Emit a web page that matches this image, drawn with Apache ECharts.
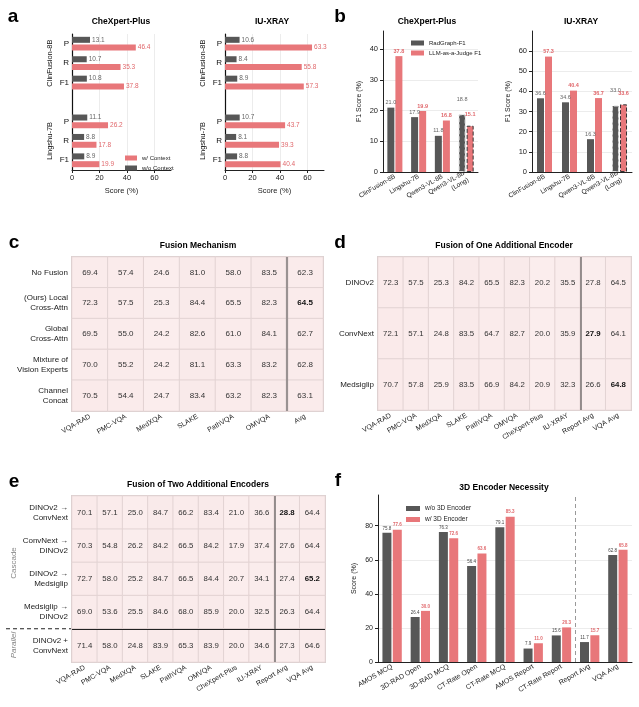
<!DOCTYPE html>
<html>
<head>
<meta charset="utf-8">
<script src="https://cdn.jsdelivr.net/npm/echarts@6/dist/echarts.min.js"></script>
<style>
html, body { margin: 0; padding: 0; background: #fff; }
#chart { width: 639px; height: 707px; }
</style>
</head>
<body>
<div id="chart"></div>
<script>
const FONT = '"Liberation Sans", Arial, sans-serif'
const DARK = '#575757'
const RED = '#e8777a'
const RED_TXT = '#e0676b'

// a: context ablation (P / R / F1 per model)
const aMetrics = ['P', 'R', 'F1']
const aModels = ['ClinFusion-8B', 'Lingshu-7B']
const aChexWo = [13.1, 10.7, 10.8, 11.1, 8.8, 8.9]
const aChexW = [46.4, 35.3, 37.8, 26.2, 17.8, 19.9]
const aIuWo = [10.6, 8.4, 8.9, 10.7, 8.1, 8.8]
const aIuW = [63.3, 55.8, 57.3, 43.7, 39.3, 40.4]
const aTicks = [0, 20, 40, 60]

// b: RadGraph vs LLM judge
const bModels = ['ClinFusion-8B', 'Lingshu-7B', 'Qwen3-VL-8B', 'Qwen3-VL-8B\n(Long)']
const bChexRad = [21.0, 17.9, 11.8, 18.8]
const bChexJudge = [37.8, 19.9, 16.8, 15.1]
const bIuRad = [36.6, 34.6, 16.3, 33.0]
const bIuJudge = [57.3, 40.4, 36.7, 33.6]

// c: fusion mechanism
const cCols = ['VQA-RAD', 'PMC-VQA', 'MedXQA', 'SLAKE', 'PathVQA', 'OMVQA', 'Avg']
const cRows = ['No Fusion', '(Ours) Local\nCross-Attn', 'Global\nCross-Attn', 'Mixture of\nVision Experts', 'Channel\nConcat']
const cVals = [
  [69.4, 57.4, 24.6, 81.0, 58.0, 83.5, 62.3],
  [72.3, 57.5, 25.3, 84.4, 65.5, 82.3, 64.5],
  [69.5, 55.0, 24.2, 82.6, 61.0, 84.1, 62.7],
  [70.0, 55.2, 24.2, 81.1, 63.3, 83.2, 62.8],
  [70.5, 54.4, 24.7, 83.4, 63.2, 82.3, 63.1]
]

// d: one additional encoder
const dCols = ['VQA-RAD', 'PMC-VQA', 'MedXQA', 'SLAKE', 'PathVQA', 'OMVQA', 'CheXpert-Plus', 'IU-XRAY', 'Report Avg', 'VQA Avg']
const dRows = ['DINOv2', 'ConvNext', 'Medsiglip']
const dVals = [
  [72.3, 57.5, 25.3, 84.2, 65.5, 82.3, 20.2, 35.5, 27.8, 64.5],
  [72.1, 57.1, 24.8, 83.5, 64.7, 82.7, 20.0, 35.9, 27.9, 64.1],
  [70.7, 57.8, 25.9, 83.5, 66.9, 84.2, 20.9, 32.3, 26.6, 64.8]
]

// e: two additional encoders
const eRows = ['DINOv2 \u2192\nConvNext', 'ConvNext \u2192\nDINOv2', 'DINOv2 \u2192\nMedsiglip', 'Medsiglip \u2192\nDINOv2', 'DINOv2 +\nConvNext']
const eVals = [
  [70.1, 57.1, 25.0, 84.7, 66.2, 83.4, 21.0, 36.6, 28.8, 64.4],
  [70.3, 54.8, 26.2, 84.2, 66.5, 84.2, 17.9, 37.4, 27.6, 64.4],
  [72.7, 58.0, 25.2, 84.7, 66.5, 84.4, 20.7, 34.1, 27.4, 65.2],
  [69.0, 53.6, 25.5, 84.6, 68.0, 85.9, 20.0, 32.5, 26.3, 64.4],
  [71.4, 58.0, 24.8, 83.9, 65.3, 83.9, 20.0, 34.6, 27.3, 64.6]
]

// f: 3D encoder
const fCats = ['AMOS MCQ', '3D-RAD Open', '3D-RAD MCQ', 'CT-Rate Open', 'CT-Rate MCQ', 'AMOS Report', 'CT-Rate Report', 'Report Avg', 'VQA Avg']
const fWo = [75.8, 26.4, 76.3, 56.4, 79.1, 7.9, 15.6, 11.7, 62.8]
const fW = [77.6, 30.0, 72.6, 63.6, 85.3, 11.0, 20.3, 15.7, 65.8]

const chart = echarts.init(document.getElementById('chart'))

// 7 slots: 3 metrics, a spacer, 3 metrics
const aSlots = ['0', '1', '2', '3', '4', '5', '6']
function withGap(vals) {
  return [...vals.slice(0, 3), null, ...vals.slice(3)]
}
function metricLabel(v, i) {
  if (i < 3) return aMetrics[i]
  if (i > 3) return aMetrics[i - 4]
  return ''
}
function groupLabel(v, i) {
  if (i === 1) return aModels[0]
  if (i === 5) return aModels[1]
  return ''
}
const fmt1 = p => (p.value == null ? '' : Number(p.value).toFixed(1))

function aXAxis(gi) {
  return {
    type: 'value', gridIndex: gi, min: 0, max: 72, interval: 20,
    name: 'Score (%)', nameLocation: 'middle', nameGap: 17,
    nameTextStyle: { fontSize: 7.5, color: '#222' },
    axisLine: { show: true, lineStyle: { color: '#222' } },
    axisTick: { show: true, length: 3, lineStyle: { color: '#222' } },
    axisLabel: { fontSize: 7.5, color: '#222', margin: 4, showMaxLabel: false,
      formatter: v => (aTicks.includes(v) ? v : '') },
    splitLine: { show: true, showMinLine: false, showMaxLine: false, lineStyle: { color: '#ececec' } }
  }
}
function aYAxes(gi) {
  return [
    {
      type: 'category', gridIndex: gi, inverse: true, data: aSlots,
      axisLine: { show: true, lineStyle: { color: '#111', width: 1.2 } },
      axisTick: { show: false },
      axisLabel: { interval: 0, fontSize: 8, color: '#111', margin: 3, formatter: metricLabel }
    },
    {
      type: 'category', gridIndex: gi, inverse: true, data: aSlots, position: 'left', offset: 10,
      axisLine: { show: false }, axisTick: { show: false },
      axisLabel: { interval: 0, rotate: 90, fontSize: 7.5, color: '#111', formatter: groupLabel }
    }
  ]
}
function aSeries(xi, yi, wo, w) {
  return [
    {
      type: 'bar', name: 'w/o Context', xAxisIndex: xi, yAxisIndex: yi, data: withGap(wo),
      barWidth: 6, barGap: '30%', itemStyle: { color: DARK },
      label: { show: true, position: 'right', distance: 2, fontSize: 6.5, color: '#666', formatter: fmt1 }
    },
    {
      type: 'bar', name: 'w/ Context', xAxisIndex: xi, yAxisIndex: yi, data: withGap(w),
      barWidth: 6, itemStyle: { color: RED },
      label: { show: true, position: 'right', distance: 2, fontSize: 6.5, color: RED_TXT, formatter: fmt1 }
    }
  ]
}

function bXAxis(gi) {
  return {
    type: 'category', gridIndex: gi, data: bModels,
    axisLine: { lineStyle: { color: '#222' } }, axisTick: { show: false },
    axisLabel: { interval: 0, rotate: 30, fontSize: 6.5, color: '#222', margin: 4, lineHeight: 8 }
  }
}
function bYAxis(gi, max) {
  return {
    type: 'value', gridIndex: gi, min: 0, max: max, interval: 10,
    name: 'F1 Score (%)', nameLocation: 'middle', nameGap: 20,
    nameTextStyle: { fontSize: 7, color: '#222' },
    axisLine: { show: true, lineStyle: { color: '#222' } },
    axisTick: { show: true, length: 3, lineStyle: { color: '#222' } },
    axisLabel: { fontSize: 7.5, color: '#222', margin: 5, showMaxLabel: false,
      formatter: v => (v % 10 === 0 ? v : '') },
    splitLine: { show: true, showMinLine: false, showMaxLine: false, lineStyle: { color: '#ececec' } }
  }
}
function bSeries(xi, yi, rad, judge) {
  const last = bModels.length - 1
  return [
    {
      type: 'bar', name: 'RadGraph-F1', xAxisIndex: xi, yAxisIndex: yi, barWidth: 7, barGap: '15%',
      data: rad.map((v, i) => i === last
        ? { value: v, itemStyle: { borderType: 'dashed', borderColor: '#ddd', borderWidth: 1 }, label: { distance: 12 } }
        : v),
      itemStyle: { color: DARK },
      label: { show: true, position: 'top', distance: 2, fontSize: 5.5, color: '#666', formatter: fmt1 }
    },
    {
      type: 'bar', name: 'LLM-as-a-Judge F1', xAxisIndex: xi, yAxisIndex: yi, barWidth: 7,
      data: judge.map((v, i) => i === last
        ? { value: v, itemStyle: { borderType: 'dashed', borderColor: '#333', borderWidth: 1 }, label: { distance: 8 } }
        : v),
      itemStyle: { color: RED },
      label: { show: true, position: 'top', distance: 2, fontSize: 5.5, fontWeight: 'bold', color: RED_TXT, formatter: fmt1 }
    }
  ]
}

function heatData(vals, boldCols) {
  const best = {}
  boldCols.forEach(c => { best[c] = Math.max(...vals.map(r => r[c])) })
  const out = []
  vals.forEach((row, r) => row.forEach((v, c) => {
    const item = { value: [c, r, v] }
    if (best[c] === v) item.label = { fontWeight: 'bold', color: '#111' }
    out.push(item)
  }))
  return out
}
function heatXAxis(gi, cols) {
  return {
    type: 'category', gridIndex: gi, data: cols,
    axisLine: { show: false }, axisTick: { show: false },
    axisLabel: { interval: 0, rotate: 30, fontSize: 7, color: '#222', margin: 5 },
    splitArea: { show: false }
  }
}
function heatYAxis(gi, rows, size) {
  return {
    type: 'category', gridIndex: gi, data: rows, inverse: true,
    axisLine: { show: false }, axisTick: { show: false },
    axisLabel: { interval: 0, fontSize: size, color: '#222', margin: 4, lineHeight: size + 2 }
  }
}
function hiddenValue(gi, max) {
  return { type: 'value', gridIndex: gi, min: 0, max: max, show: false, position: 'top' }
}
function heatSeries(xi, yi, data, size) {
  return {
    type: 'heatmap', xAxisIndex: xi, yAxisIndex: yi, data: data,
    itemStyle: { borderColor: '#e2d3d3', borderWidth: 1 },
    label: { show: true, fontSize: size, color: '#333', formatter: p => p.value[2].toFixed(1) },
    emphasis: { disabled: true }
  }
}
function sepSeries(xi, yi, lines) {
  return {
    type: 'line', xAxisIndex: xi, yAxisIndex: yi, data: [], silent: true,
    markLine: { silent: true, symbol: ['none', 'none'], label: { show: false }, animation: false, data: lines }
  }
}

const heatBorder = { show: true, borderColor: '#b9b0b0', borderWidth: 1.6, backgroundColor: 'transparent' }

const series = [
  ...aSeries(0, 0, aChexWo, aChexW),
  ...aSeries(1, 2, aIuWo, aIuW),
  ...bSeries(2, 4, bChexRad, bChexJudge),
  ...bSeries(3, 5, bIuRad, bIuJudge),
  heatSeries(4, 6, heatData(cVals, [6]), 8),
  heatSeries(5, 7, heatData(dVals, [8, 9]), 7.8),
  heatSeries(6, 8, heatData(eVals, [8, 9]), 7.8),
  {
    type: 'bar', name: 'w/o 3D Encoder', xAxisIndex: 7, yAxisIndex: 9, data: fWo,
    barWidth: 9, barGap: '15%', itemStyle: { color: DARK },
    label: { show: true, position: 'top', distance: 2, fontSize: 4.5, color: '#444', formatter: fmt1 }
  },
  {
    type: 'bar', name: 'w/ 3D Encoder', xAxisIndex: 7, yAxisIndex: 9, data: fW,
    barWidth: 9, itemStyle: { color: RED },
    label: { show: true, position: 'top', distance: 2, fontSize: 4.5, fontWeight: 'bold', color: RED_TXT, formatter: fmt1 }
  },
  sepSeries(8, 6, [{ xAxis: cCols.length - 1, lineStyle: { color: '#9a9292', width: 2.2, type: 'solid' } }]),
  sepSeries(9, 7, [{ xAxis: 8, lineStyle: { color: '#7d7777', width: 1.6, type: 'solid' } }]),
  sepSeries(10, 10, [
    { xAxis: 8, lineStyle: { color: '#7d7777', width: 1.6, type: 'solid' } },
    { yAxis: 1, lineStyle: { color: '#222', width: 1.2, type: 'solid' } }
  ]),
  sepSeries(11, 9, [{ xAxis: 7, lineStyle: { color: '#999', width: 1, type: [4, 3] } }])
]
const heatIdx = series.map((s, i) => (s.type === 'heatmap' ? i : -1)).filter(i => i >= 0)

function txt(x, y, text, size, extra) {
  return Object.assign({
    type: 'text', x: x, y: y, silent: true,
    style: { text: text, fontSize: size, fontWeight: 'bold', fontFamily: FONT, fill: '#000', align: 'center', verticalAlign: 'middle' }
  }, extra || {})
}

const option = {
  animation: false,
  backgroundColor: '#fff',
  textStyle: { fontFamily: FONT },
  grid: [
    { left: 72, top: 34, width: 99, height: 136 },
    { left: 225, top: 34, width: 99, height: 136 },
    { left: 383, top: 31, width: 95, height: 141 },
    { left: 532, top: 31, width: 100, height: 141 },
    Object.assign({ left: 72, top: 257, width: 251, height: 154 }, heatBorder),
    Object.assign({ left: 378, top: 257, width: 253, height: 153 }, heatBorder),
    Object.assign({ left: 72, top: 496, width: 253, height: 166 }, heatBorder),
    { left: 378, top: 495, width: 254, height: 167 }
  ],
  xAxis: [
    aXAxis(0),
    aXAxis(1),
    bXAxis(2),
    bXAxis(3),
    heatXAxis(4, cCols),
    heatXAxis(5, dCols),
    heatXAxis(6, dCols),
    {
      type: 'category', gridIndex: 7, data: fCats,
      axisLine: { lineStyle: { color: '#222' } }, axisTick: { show: false },
      axisLabel: { interval: 0, rotate: 30, fontSize: 7, color: '#222', margin: 4 }
    },
    hiddenValue(4, cCols.length),
    hiddenValue(5, dCols.length),
    hiddenValue(6, dCols.length),
    hiddenValue(7, fCats.length)
  ],
  yAxis: [
    ...aYAxes(0),
    ...aYAxes(1),
    bYAxis(2, 46),
    bYAxis(3, 70),
    heatYAxis(4, cRows, 8),
    heatYAxis(5, dRows, 8),
    heatYAxis(6, eRows, 8),
    {
      type: 'value', gridIndex: 7, min: 0, max: 98, interval: 20,
      name: 'Score (%)', nameLocation: 'middle', nameGap: 20,
      nameTextStyle: { fontSize: 7, color: '#222' },
      axisLine: { show: true, lineStyle: { color: '#222' } },
      axisTick: { show: true, length: 3, lineStyle: { color: '#222' } },
      axisLabel: { fontSize: 7, color: '#222', margin: 5, showMaxLabel: false,
        formatter: v => (v % 20 === 0 ? v : '') },
      splitLine: { show: true, showMinLine: false, showMaxLine: false, lineStyle: { color: '#ececec' } }
    },
    { type: 'value', gridIndex: 6, min: 0, max: eRows.length, show: false, position: 'right' }
  ],
  legend: [
    {
      left: 120, top: 150, orient: 'vertical', icon: 'rect', itemWidth: 12, itemHeight: 5, itemGap: 4,
      selectedMode: false, data: ['w/ Context', 'w/o Context'], textStyle: { fontSize: 6, color: '#222' }
    },
    {
      left: 406, top: 35, orient: 'vertical', icon: 'rect', itemWidth: 13, itemHeight: 5, itemGap: 4,
      selectedMode: false, data: ['RadGraph-F1', 'LLM-as-a-Judge F1'], textStyle: { fontSize: 6, color: '#222' }
    },
    {
      left: 401, top: 500, orient: 'vertical', icon: 'rect', itemWidth: 14, itemHeight: 5, itemGap: 4,
      selectedMode: false, data: ['w/o 3D Encoder', 'w/ 3D Encoder'], textStyle: { fontSize: 6.5, color: '#222' }
    }
  ],
  visualMap: {
    show: false, type: 'continuous', seriesIndex: heatIdx, dimension: 2, min: 0, max: 100,
    inRange: { color: ['#fbeeee', '#f9e9e9'] }
  },
  series: series,
  graphic: [
    txt(13, 17, 'a', 19),
    txt(340, 17, 'b', 19),
    txt(14, 243, 'c', 19),
    txt(340, 243, 'd', 19),
    txt(14, 482, 'e', 19),
    txt(338, 481, 'f', 19),
    txt(121, 22, 'CheXpert-Plus', 8.5),
    txt(272, 22, 'IU-XRAY', 8.5),
    txt(427, 22, 'CheXpert-Plus', 8.5),
    txt(581, 22, 'IU-XRAY', 8.5),
    txt(198, 246, 'Fusion Mechanism', 8.5),
    txt(504, 246, 'Fusion of One Additional Encoder', 8.5),
    txt(198, 485, 'Fusion of Two Additional Encoders', 8.5),
    txt(504, 488, '3D Encoder Necessity', 8.5),
    Object.assign(txt(14, 563, 'Cascade', 8), { rotation: Math.PI / 2 }),
    Object.assign(txt(14, 645, 'Parallel', 8), { rotation: Math.PI / 2 })
  ]
}
option.graphic[14].style.fontWeight = 'normal'
option.graphic[14].style.fill = '#888'
option.graphic[15].style.fontWeight = 'normal'
option.graphic[15].style.fontStyle = 'italic'
option.graphic[15].style.fill = '#888'

chart.setOption(option)

// dashed lead-in of the cascade / parallel divider, left of the table
const sepPt = chart.convertToPixel({ xAxisIndex: 10, yAxisIndex: 10 }, [0, 1])
option.graphic.push({
  type: 'line', silent: true,
  shape: { x1: 6, y1: sepPt[1], x2: sepPt[0], y2: sepPt[1] },
  style: { stroke: '#222', lineWidth: 1.1, lineDash: [4, 3] }
})
chart.setOption({ graphic: option.graphic })

window.addEventListener('resize', () => chart.resize())
</script>
</body>
</html>
